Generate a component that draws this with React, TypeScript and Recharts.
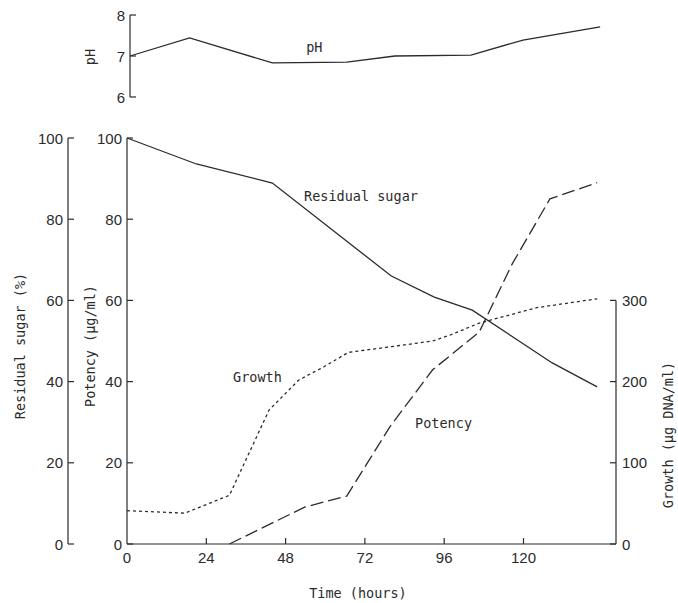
import React from 'react';
import { LineChart, Line, XAxis, YAxis, ReferenceLine, ReferenceDot } from 'recharts';

const INK = '#2b2b2b';
const MONO = '"DejaVu Sans Mono", monospace';
const SANS = '"Liberation Sans", Arial, sans-serif';

// ticks
const timeTicks = [0, 24, 48, 72, 96, 120];
const leftTicks = [0, 20, 40, 60, 80, 100];
const growthTicks = [0, 100, 200, 300];
const phTicks = [6, 7, 8];

// Residual sugar (%)
const sugarTime = [0, 21, 44, 80, 93, 104.5, 128.7, 142.3];
const sugarValues = [100, 93.6, 88.9, 66, 60.8, 57.6, 44.6, 38.7];

// Growth (ug DNA/ml)
const growthTime = [0, 17.5, 31, 43, 52, 59.5, 67, 80, 92.5, 97.6, 106.6, 124, 142.3];
const growthValues = [41, 38, 60, 165, 202, 218, 236, 243, 250, 257, 272, 291, 302];

// Potency (ug/ml)
const potencyTime = [31, 53.8, 66.5, 79.5, 92.5, 106.6, 116.6, 128, 142.3];
const potencyValues = [0, 9.1, 11.8, 28.8, 42.9, 52.2, 69, 85, 89];

// pH
const phTime = [0, 18, 43, 65.5, 80, 103, 118.7, 142];
const phValues = [7.0, 7.44, 6.83, 6.85, 7.0, 7.02, 7.39, 7.71];

const zip = (ts: number[], vs: number[]) => ts.map((t, i) => ({ t, v: vs[i] }));
const sugarData = zip(sugarTime, sugarValues);
const growthData = zip(growthTime, growthValues);
const potencyData = zip(potencyTime, potencyValues);
const phData = zip(phTime, phValues);

const TM = 4; // tick margin
const TL = 6; // tick length

const LeftTick = (props: any) => {
  const { x, y, payload } = props;
  const ax = x + TM;
  return (
    <g>
      <line x1={ax} x2={ax + TL} y1={y} y2={y} stroke={INK} strokeWidth={1.2} />
      <text x={ax - 5} y={y} textAnchor="end" dominantBaseline="central" fontFamily={SANS} fontSize={15} fill={INK}>
        {payload.value}
      </text>
    </g>
  );
};

const RightTick = (props: any) => {
  const { x, y, payload } = props;
  const ax = x - TM;
  return (
    <g>
      <line x1={ax} x2={ax - TL} y1={y} y2={y} stroke={INK} strokeWidth={1.2} />
      <text x={ax + 6} y={y} textAnchor="start" dominantBaseline="central" fontFamily={SANS} fontSize={15} fill={INK}>
        {payload.value}
      </text>
    </g>
  );
};

const BottomTick = (props: any) => {
  const { x, y, payload } = props;
  const ay = y - TM;
  return (
    <g>
      {payload.value !== 0 && <line x1={x} x2={x} y1={ay} y2={ay - TL} stroke={INK} strokeWidth={1.2} />}
      <text x={x} y={ay + 13} textAnchor="middle" dominantBaseline="central" fontFamily={SANS} fontSize={15} fill={INK}>
        {payload.value}
      </text>
    </g>
  );
};

const RotTitle = (x: number, y: number, text: string) => (
  <text
    x={x}
    y={y}
    transform={`rotate(-90 ${x} ${y})`}
    textAnchor="middle"
    dominantBaseline="central"
    fontFamily={MONO}
    fontSize={13.5}
    fill={INK}
  >
    {text}
  </text>
);

const inlineLabel = (text: string) => (p: any) => {
  const vb = p.viewBox || {};
  const cx = vb.x + (vb.width || 0) / 2;
  const cy = vb.y + (vb.height || 0) / 2;
  return (
    <text x={cx} y={cy} textAnchor="start" dominantBaseline="central" fontFamily={MONO} fontSize={13.5} fill={INK}>
      {text}
    </text>
  );
};

export default function App() {
  return (
    <div style={{ position: 'absolute', left: 0, top: 0, width: 678, height: 603, background: '#fff' }}>
      {/* pH panel */}
      <div style={{ position: 'absolute', left: 0, top: 0 }}>
        <LineChart width={678} height={110} margin={{ top: 15, right: 58, bottom: 13, left: 70 }}>
          <XAxis dataKey="t" type="number" domain={[0, 148]} hide />
          <YAxis
            yAxisId="ph"
            type="number"
            domain={[6, 8]}
            ticks={phTicks}
            width={60}
            tickSize={0}
            tickMargin={TM}
            tickLine={false}
            axisLine={{ stroke: INK, strokeWidth: 1.2 }}
            tick={<LeftTick />}
            label={{ content: (p: any) => RotTitle(90, 57, 'pH') }}
          />
          <Line
            yAxisId="ph"
            data={phData}
            dataKey="v"
            type="linear"
            stroke={INK}
            strokeWidth={1.3}
            dot={false}
            isAnimationActive={false}
          />
          <ReferenceDot yAxisId="ph" x={53.2} y={7.22} r={1} fill="none" stroke="none" label={{ content: inlineLabel('pH') }} />
        </LineChart>
      </div>

      {/* main panel */}
      <div style={{ position: 'absolute', left: 0, top: 0 }}>
        <LineChart width={678} height={603} margin={{ top: 138, right: 22, bottom: 0, left: 18 }}>
          <XAxis
            dataKey="t"
            type="number"
            domain={[0, 148]}
            ticks={timeTicks}
            height={59}
            tickSize={0}
            tickMargin={TM}
            tickLine={false}
            axisLine={{ stroke: INK, strokeWidth: 1.2 }}
            tick={<BottomTick />}
            label={{ content: () => (
              <text x={358} y={593} textAnchor="middle" dominantBaseline="central" fontFamily={MONO} fontSize={13.5} fill={INK}>
                Time (hours)
              </text>
            ) }}
          />
          <YAxis
            yAxisId="potency"
            orientation="left"
            type="number"
            domain={[0, 100]}
            ticks={leftTicks}
            width={59}
            tickSize={0}
            tickMargin={TM}
            tickLine={false}
            axisLine={{ stroke: INK, strokeWidth: 1.2 }}
            tick={<LeftTick />}
            label={{ content: () => RotTitle(90, 346, 'Potency (µg/ml)') }}
          />
          <YAxis
            yAxisId="sugar"
            orientation="left"
            type="number"
            domain={[0, 100]}
            ticks={leftTicks}
            width={50}
            tickSize={0}
            tickMargin={TM}
            tickLine={false}
            axisLine={{ stroke: INK, strokeWidth: 1.2 }}
            tick={<LeftTick />}
            label={{ content: () => RotTitle(20, 346, 'Residual sugar (%)') }}
          />
          <YAxis
            yAxisId="growth"
            orientation="right"
            type="number"
            domain={[0, 500]}
            ticks={growthTicks}
            width={40}
            tickSize={0}
            tickMargin={TM}
            tickLine={false}
            axisLine={false}
            tick={<RightTick />}
            label={{ content: () => RotTitle(668, 435, 'Growth (µg DNA/ml)') }}
          />
          <ReferenceLine
            yAxisId="growth"
            segment={[{ x: 148, y: 0 }, { x: 148, y: 300 }]}
            stroke={INK}
            strokeWidth={1.2}
            ifOverflow="visible"
          />
          <Line
            yAxisId="sugar"
            data={sugarData}
            dataKey="v"
            type="linear"
            stroke={INK}
            strokeWidth={1.3}
            dot={false}
            isAnimationActive={false}
          />
          <Line
            yAxisId="growth"
            data={growthData}
            dataKey="v"
            type="linear"
            stroke={INK}
            strokeWidth={1.3}
            strokeDasharray="3 3"
            dot={false}
            isAnimationActive={false}
          />
          <Line
            yAxisId="potency"
            data={potencyData}
            dataKey="v"
            type="linear"
            stroke={INK}
            strokeWidth={1.3}
            strokeDasharray="13 5"
            dot={false}
            isAnimationActive={false}
          />
          <ReferenceDot yAxisId="potency" x={53.6} y={85.7} r={1} fill="none" stroke="none" label={{ content: inlineLabel('Residual sugar') }} />
          <ReferenceDot yAxisId="potency" x={32.1} y={41.1} r={1} fill="none" stroke="none" label={{ content: inlineLabel('Growth') }} />
          <ReferenceDot yAxisId="potency" x={87.2} y={29.8} r={1} fill="none" stroke="none" label={{ content: inlineLabel('Potency') }} />
        </LineChart>
      </div>
    </div>
  );
}
